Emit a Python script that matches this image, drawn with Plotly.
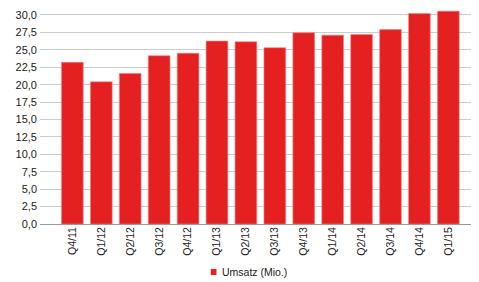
import plotly.graph_objects as go

quarters = ["Q4/11", "Q1/12", "Q2/12", "Q3/12", "Q4/12", "Q1/13", "Q2/13", "Q3/13",
            "Q4/13", "Q1/14", "Q2/14", "Q3/14", "Q4/14", "Q1/15"]
umsatz = [23.2, 20.4, 21.6, 24.15, 24.5, 26.25, 26.15, 25.3, 27.45, 27.1, 27.2, 27.9, 30.2, 30.55]
y_ticks = [0, 2.5, 5, 7.5, 10, 12.5, 15, 17.5, 20, 22.5, 25, 27.5, 30]
legend_label = "Umsatz (Mio.)"

BAR_COLOR = "#e52020"

fig = go.Figure()
fig.add_trace(go.Bar(
    x=list(range(len(quarters))), y=umsatz, width=0.75,
    marker=dict(color=BAR_COLOR, line=dict(color="#f08080", width=0.6)),
    showlegend=False, name=legend_label,
))

# manual legend (small square + label), centred under the plot
fig.add_shape(type="rect", xref="paper", yref="paper",
              x0=0.389, x1=0.402, y0=-0.236, y1=-0.208,
              fillcolor=BAR_COLOR, line=dict(width=0))
fig.add_annotation(text=legend_label, xref="paper", yref="paper",
                   x=0.409, y=-0.222, xanchor="left", yanchor="middle",
                   showarrow=False, font=dict(size=10.5, color="#222"))

# page body has an 8px margin, so the figure is 8px smaller than the window
fig.update_layout(
    width=471, height=274,
    margin=dict(l=32, r=0, t=0, b=58),
    paper_bgcolor="white", plot_bgcolor="white",
    separators=",.",
    font=dict(family="Liberation Sans, Arial, sans-serif", size=11, color="#222"),
    showlegend=False,
    xaxis=dict(
        range=[-1.12, 14.06], automargin=False,
        tickmode="array", tickvals=list(range(len(quarters))), ticktext=quarters,
        tickangle=-90, tickfont=dict(size=10.5), showgrid=False, zeroline=False,
        showline=False, ticks="",
    ),
    yaxis=dict(
        range=[0, 31], tickmode="array", tickvals=y_ticks, automargin=False,
        tickformat=".1f", showgrid=True, gridcolor="#cccccc", gridwidth=1,
        zeroline=True, zerolinecolor="#999999", zerolinewidth=1,
        ticks="", tickfont=dict(size=11), showline=False, ticklabelstandoff=2,
    ),
)

fig.write_html("out.html")
